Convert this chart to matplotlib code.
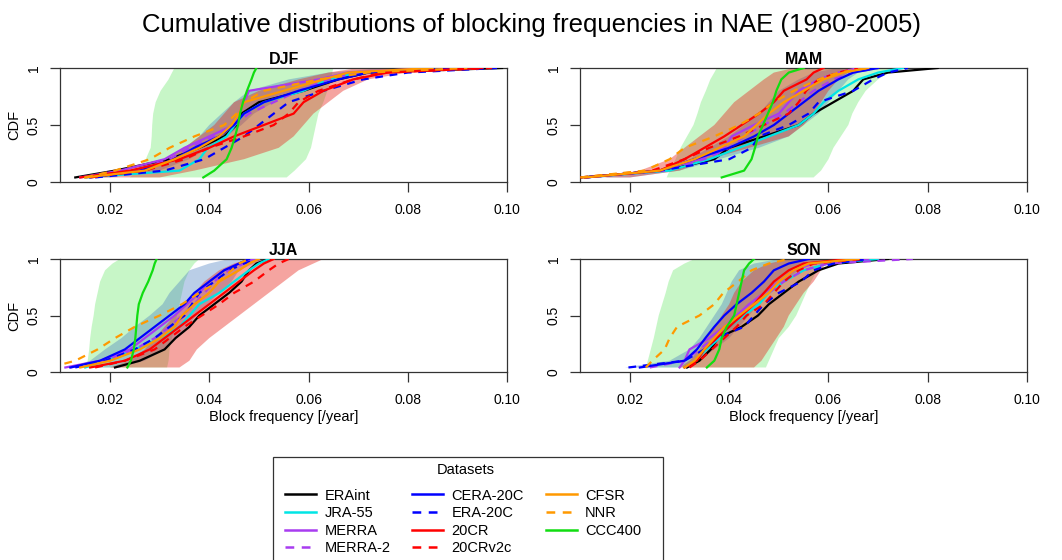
import matplotlib
matplotlib.use("Agg")
import matplotlib.pyplot as plt
from matplotlib.lines import Line2D
from matplotlib.patches import Rectangle

plt.rcParams['font.family'] = ['Liberation Sans', 'DejaVu Sans']

TITLE = "Cumulative distributions of blocking frequencies in NAE (1980-2005)"
SEASONS = ["DJF", "MAM", "JJA", "SON"]
DATASETS = ["ERAint", "JRA-55", "MERRA", "MERRA-2", "CERA-20C", "ERA-20C",
            "20CR", "20CRv2c", "CFSR", "NNR", "CCC400"]
CDF_LEVELS = [0.04, 0.1, 0.2, 0.3, 0.4, 0.5, 0.6, 0.7, 0.8, 0.9, 0.96, 1.0]
X_TICKS = [0.02, 0.04, 0.06, 0.08, 0.10]
X_TICK_LABELS = ["0.02", "0.04", "0.06", "0.08", "0.10"]
Y_TICKS = [0, 0.5, 1]
Y_TICK_LABELS = ["0", "0.5", "1"]

# ---- DJF: block frequency at each CDF level ----
DJF_ERAINT = [0.013, 0.021, 0.032, 0.038, 0.043, 0.0455, 0.0465, 0.050, 0.059, 0.066, 0.072, 0.099]
DJF_JRA55 = [0.015, 0.034, 0.038, 0.0397, 0.0435, 0.0452, 0.047, 0.051, 0.059, 0.064, 0.070, 0.095]
DJF_MERRA = [0.014, 0.022, 0.031, 0.035, 0.040, 0.045, 0.046, 0.047, 0.048, 0.062, 0.068, 0.085]
DJF_MERRA2 = [0.015, 0.025, 0.032, 0.036, 0.041, 0.045, 0.048, 0.053, 0.058, 0.064, 0.070, 0.088]
DJF_CERA20C = [0.016, 0.026, 0.033, 0.037, 0.042, 0.045, 0.047, 0.051, 0.058, 0.066, 0.072, 0.092]
DJF_ERA20C = [0.017, 0.031, 0.039, 0.043, 0.047, 0.050, 0.053, 0.056, 0.063, 0.071, 0.080, 0.098]
DJF_20CR = [0.014, 0.024, 0.034, 0.040, 0.045, 0.051, 0.057, 0.059, 0.063, 0.069, 0.076, 0.095]
DJF_20CRV2C = [0.016, 0.027, 0.035, 0.040, 0.047, 0.053, 0.056, 0.058, 0.062, 0.069, 0.075, 0.097]
DJF_CFSR = [0.015, 0.027, 0.033, 0.038, 0.042, 0.0445, 0.046, 0.047, 0.055, 0.063, 0.068, 0.085]
DJF_NNR = [0.015, 0.021, 0.028, 0.032, 0.037, 0.043, 0.0455, 0.047, 0.051, 0.062, 0.072, 0.092]
DJF_CCC400 = [0.0388, 0.041, 0.0435, 0.0445, 0.0452, 0.0458, 0.0462, 0.0468, 0.0476, 0.0485, 0.049, 0.0495]
DJF_CCC400_LO = [0.024, 0.0255, 0.0272, 0.0282, 0.0284, 0.0285, 0.0287, 0.0292, 0.0302, 0.0318, 0.0325, 0.033]
DJF_CCC400_HI = [0.0556, 0.0572, 0.0595, 0.0605, 0.061, 0.0615, 0.062, 0.063, 0.0638, 0.0645, 0.0648, 0.065]
DJF_CERA_LO = [0.016, 0.025, 0.032, 0.035, 0.038, 0.040, 0.0425, 0.045, 0.048, 0.056, 0.064, 0.075]
DJF_CERA_HI = [0.020, 0.030, 0.036, 0.040, 0.0435, 0.0465, 0.049, 0.053, 0.058, 0.066, 0.074, 0.088]
DJF_20CR_LO = [0.014, 0.022, 0.031, 0.035, 0.038, 0.041, 0.043, 0.045, 0.050, 0.058, 0.064, 0.070]
DJF_20CR_HI = [0.030, 0.037, 0.047, 0.054, 0.057, 0.059, 0.061, 0.064, 0.067, 0.072, 0.080, 0.085]

# ---- MAM ----
MAM_ERAINT = [0.010, 0.027, 0.037, 0.040, 0.047, 0.054, 0.057, 0.061, 0.065, 0.067, 0.072, 0.082]
MAM_JRA55 = [0.011, 0.028, 0.036, 0.042, 0.048, 0.054, 0.057, 0.059, 0.062, 0.066, 0.070, 0.075]
MAM_MERRA = [0.011, 0.026, 0.034, 0.039, 0.0405, 0.045, 0.050, 0.052, 0.054, 0.058, 0.062, 0.066]
MAM_MERRA2 = [0.011, 0.027, 0.035, 0.040, 0.043, 0.047, 0.051, 0.054, 0.057, 0.061, 0.065, 0.070]
MAM_CERA20C = [0.011, 0.026, 0.033, 0.040, 0.045, 0.049, 0.052, 0.055, 0.058, 0.062, 0.065, 0.070]
MAM_ERA20C = [0.011, 0.026, 0.040, 0.0445, 0.046, 0.052, 0.056, 0.058, 0.065, 0.069, 0.072, 0.076]
MAM_20CR = [0.011, 0.026, 0.031, 0.035, 0.039, 0.0425, 0.046, 0.049, 0.051, 0.0556, 0.057, 0.059]
MAM_20CRV2C = [0.010, 0.0245, 0.031, 0.036, 0.042, 0.047, 0.052, 0.054, 0.0555, 0.058, 0.062, 0.066]
MAM_CFSR = [0.011, 0.026, 0.033, 0.038, 0.043, 0.0455, 0.048, 0.051, 0.055, 0.059, 0.063, 0.068]
MAM_NNR = [0.010, 0.023, 0.028, 0.031, 0.037, 0.042, 0.046, 0.049, 0.053, 0.058, 0.062, 0.068]
MAM_CCC400 = [0.0385, 0.043, 0.0445, 0.0452, 0.0458, 0.0468, 0.0478, 0.0488, 0.0495, 0.0505, 0.052, 0.055]
MAM_CCC400_LO = [0.0274, 0.028, 0.0292, 0.0302, 0.0315, 0.0328, 0.0336, 0.0343, 0.0353, 0.0362, 0.037, 0.0375]
MAM_CCC400_HI = [0.057, 0.0585, 0.060, 0.061, 0.0625, 0.064, 0.0648, 0.066, 0.0675, 0.070, 0.072, 0.074]
MAM_CERA_LO = [0.012, 0.025, 0.032, 0.036, 0.040, 0.043, 0.046, 0.048, 0.050, 0.054, 0.057, 0.062]
MAM_CERA_HI = [0.020, 0.030, 0.038, 0.046, 0.052, 0.055, 0.058, 0.060, 0.062, 0.064, 0.066, 0.070]
MAM_20CR_LO = [0.015, 0.022, 0.028, 0.031, 0.034, 0.037, 0.039, 0.041, 0.044, 0.047, 0.049, 0.053]
MAM_20CR_HI = [0.020, 0.030, 0.036, 0.044, 0.052, 0.055, 0.057, 0.0585, 0.060, 0.062, 0.064, 0.066]

# ---- JJA ----
JJA_ERAINT = [0.021, 0.026, 0.031, 0.0332, 0.036, 0.038, 0.041, 0.044, 0.0465, 0.048, 0.0495, 0.052]
JJA_JRA55 = [0.015, 0.019, 0.025, 0.030, 0.034, 0.036, 0.038, 0.042, 0.045, 0.048, 0.050, 0.052]
JJA_MERRA = [0.011, 0.018, 0.024, 0.027, 0.030, 0.033, 0.0355, 0.038, 0.040, 0.043, 0.046, 0.049]
JJA_MERRA2 = [0.012, 0.019, 0.025, 0.029, 0.032, 0.0345, 0.037, 0.039, 0.041, 0.044, 0.047, 0.050]
JJA_CERA20C = [0.012, 0.018, 0.023, 0.026, 0.029, 0.032, 0.035, 0.037, 0.040, 0.043, 0.046, 0.048]
JJA_ERA20C = [0.013, 0.019, 0.025, 0.029, 0.032, 0.035, 0.0365, 0.038, 0.041, 0.044, 0.047, 0.050]
JJA_20CR = [0.016, 0.023, 0.028, 0.031, 0.034, 0.037, 0.040, 0.043, 0.046, 0.049, 0.051, 0.053]
JJA_20CRV2C = [0.017, 0.023, 0.029, 0.032, 0.035, 0.0385, 0.042, 0.045, 0.049, 0.052, 0.054, 0.056]
JJA_CFSR = [0.014, 0.020, 0.026, 0.030, 0.033, 0.0345, 0.037, 0.040, 0.042, 0.046, 0.048, 0.050]
JJA_NNR = [0.008, 0.013, 0.0175, 0.021, 0.025, 0.030, 0.0345, 0.038, 0.0418, 0.0445, 0.046, 0.048]
JJA_CCC400 = [0.0235, 0.0242, 0.0248, 0.0251, 0.0253, 0.0255, 0.0258, 0.0266, 0.0277, 0.0286, 0.029, 0.0294]
JJA_CCC400_LO = [0.0152, 0.0155, 0.0158, 0.016, 0.0163, 0.0167, 0.017, 0.0175, 0.018, 0.019, 0.0205, 0.022]
JJA_CCC400_HI = [0.0315, 0.0318, 0.032, 0.0325, 0.033, 0.0335, 0.034, 0.0345, 0.035, 0.036, 0.037, 0.038]
JJA_CERA_LO = [0.012, 0.016, 0.019, 0.0223, 0.025, 0.028, 0.0306, 0.032, 0.034, 0.036, 0.040, 0.044]
JJA_CERA_HI = [0.022, 0.027, 0.031, 0.0332, 0.0355, 0.0375, 0.0397, 0.042, 0.0445, 0.046, 0.049, 0.051]
JJA_20CR_LO = [0.020, 0.024, 0.027, 0.029, 0.031, 0.033, 0.035, 0.037, 0.039, 0.042, 0.045, 0.048]
JJA_20CR_HI = [0.034, 0.036, 0.0375, 0.040, 0.043, 0.046, 0.049, 0.052, 0.055, 0.058, 0.061, 0.063]

# ---- SON ----
SON_ERAINT = [0.0315, 0.034, 0.0363, 0.0377, 0.0425, 0.0458, 0.048, 0.051, 0.054, 0.058, 0.062, 0.072]
SON_JRA55 = [0.031, 0.033, 0.0355, 0.038, 0.040, 0.043, 0.046, 0.048, 0.051, 0.055, 0.060, 0.070]
SON_MERRA = [0.030, 0.031, 0.032, 0.036, 0.039, 0.0415, 0.044, 0.047, 0.050, 0.053, 0.057, 0.068]
SON_MERRA2 = [0.024, 0.031, 0.034, 0.037, 0.040, 0.0425, 0.045, 0.048, 0.051, 0.055, 0.060, 0.077]
SON_CERA20C = [0.022, 0.031, 0.0335, 0.0352, 0.037, 0.039, 0.0415, 0.0445, 0.047, 0.049, 0.052, 0.056]
SON_ERA20C = [0.0197, 0.031, 0.035, 0.0375, 0.043, 0.045, 0.047, 0.050, 0.0545, 0.057, 0.061, 0.068]
SON_20CR = [0.031, 0.0335, 0.035, 0.0375, 0.040, 0.0425, 0.045, 0.047, 0.049, 0.052, 0.055, 0.064]
SON_20CRV2C = [0.032, 0.034, 0.0365, 0.039, 0.0415, 0.0435, 0.047, 0.049, 0.051, 0.054, 0.057, 0.067]
SON_CFSR = [0.031, 0.033, 0.035, 0.037, 0.039, 0.042, 0.045, 0.048, 0.050, 0.053, 0.056, 0.066]
SON_NNR = [0.0232, 0.0245, 0.027, 0.028, 0.0295, 0.034, 0.037, 0.0388, 0.0418, 0.0445, 0.048, 0.052]
SON_CCC400 = [0.0355, 0.037, 0.038, 0.0385, 0.0395, 0.041, 0.0415, 0.042, 0.0425, 0.043, 0.044, 0.045]
SON_CCC400_LO = [0.0232, 0.0236, 0.0242, 0.0248, 0.0253, 0.0258, 0.0265, 0.0272, 0.0278, 0.0287, 0.031, 0.033]
SON_CCC400_HI = [0.0474, 0.048, 0.049, 0.050, 0.052, 0.0535, 0.0545, 0.0555, 0.0565, 0.0577, 0.059, 0.060]
SON_CERA_LO = [0.019, 0.028, 0.032, 0.034, 0.0355, 0.037, 0.0385, 0.0395, 0.0405, 0.042, 0.045, 0.050]
SON_CERA_HI = [0.030, 0.034, 0.037, 0.040, 0.042, 0.044, 0.046, 0.048, 0.051, 0.054, 0.057, 0.062]
SON_20CR_LO = [0.030, 0.032, 0.034, 0.0355, 0.037, 0.0385, 0.040, 0.041, 0.0425, 0.045, 0.048, 0.052]
SON_20CR_HI = [0.045, 0.0465, 0.048, 0.0495, 0.051, 0.052, 0.0535, 0.055, 0.057, 0.0585, 0.0595, 0.061]

CURVES = {
    "DJF": [DJF_ERAINT, DJF_JRA55, DJF_MERRA, DJF_MERRA2, DJF_CERA20C, DJF_ERA20C,
            DJF_20CR, DJF_20CRV2C, DJF_CFSR, DJF_NNR, DJF_CCC400],
    "MAM": [MAM_ERAINT, MAM_JRA55, MAM_MERRA, MAM_MERRA2, MAM_CERA20C, MAM_ERA20C,
            MAM_20CR, MAM_20CRV2C, MAM_CFSR, MAM_NNR, MAM_CCC400],
    "JJA": [JJA_ERAINT, JJA_JRA55, JJA_MERRA, JJA_MERRA2, JJA_CERA20C, JJA_ERA20C,
            JJA_20CR, JJA_20CRV2C, JJA_CFSR, JJA_NNR, JJA_CCC400],
    "SON": [SON_ERAINT, SON_JRA55, SON_MERRA, SON_MERRA2, SON_CERA20C, SON_ERA20C,
            SON_20CR, SON_20CRV2C, SON_CFSR, SON_NNR, SON_CCC400],
}
BANDS = {
    "DJF": [(DJF_CCC400_LO, DJF_CCC400_HI), (DJF_CERA_LO, DJF_CERA_HI), (DJF_20CR_LO, DJF_20CR_HI)],
    "MAM": [(MAM_CCC400_LO, MAM_CCC400_HI), (MAM_CERA_LO, MAM_CERA_HI), (MAM_20CR_LO, MAM_20CR_HI)],
    "JJA": [(JJA_CCC400_LO, JJA_CCC400_HI), (JJA_CERA_LO, JJA_CERA_HI), (JJA_20CR_LO, JJA_20CR_HI)],
    "SON": [(SON_CCC400_LO, SON_CCC400_HI), (SON_CERA_LO, SON_CERA_HI), (SON_20CR_LO, SON_20CR_HI)],
}

# ---- styles ----
COLORS = ["#000000", "#00E5E5", "#A83CF0", "#A83CF0", "#0000FF", "#0000FF",
          "#FF0000", "#FF0000", "#FF9900", "#FF9900", "#11DD11"]
STYLES = ["-", "-", "-", "--", "-", "--", "-", "--", "-", "--", "-"]
BAND_COLORS = [("#90EE90", 0.5), ("#4A7FC0", 0.38), ("#E8281E", 0.42)]
DASH = (0, (3.5, 3.0))

fig = plt.figure(figsize=(10.62, 5.60), dpi=100)
W, H = 1062.0, 560.0
panel_px = {"DJF": (60.4, 68, 507, 182), "MAM": (580.3, 68, 1027, 182),
            "JJA": (60.4, 259, 507, 372), "SON": (580.3, 259, 1027, 372)}

for season in SEASONS:
    l, t, r, b = panel_px[season]
    ax = fig.add_axes([l / W, 1 - b / H, (r - l) / W, (b - t) / H])
    for (lo, hi), (fc, al) in zip(BANDS[season], BAND_COLORS):
        ax.fill_betweenx(CDF_LEVELS, lo, hi, facecolor=fc, alpha=al, lw=0, zorder=1)
    for xs, c, s in zip(CURVES[season], COLORS, STYLES):
        ls = DASH if s == "--" else "-"
        ax.plot(xs, CDF_LEVELS, color=c, linestyle=ls, lw=1.6, zorder=3)
    ax.set_xlim(0.01, 0.10)
    ax.set_ylim(0, 1)
    ax.set_xticks(X_TICKS)
    ax.set_xticklabels(X_TICK_LABELS, fontsize=10)
    ax.set_yticks(Y_TICKS)
    ax.set_yticklabels(Y_TICK_LABELS, fontsize=10, rotation=90, va="center")
    ax.tick_params(axis="x", length=7, width=0.9, pad=8, color="#333333")
    ax.tick_params(axis="y", length=7, width=0.9, pad=7, color="#333333")
    for sp in ax.spines.values():
        sp.set_linewidth(0.9)
        sp.set_color("#333333")
    ax.set_title(season, fontsize=11.5, fontweight="bold", pad=3)
    if season in ("DJF", "JJA"):
        ax.set_ylabel("CDF", fontsize=10.5, labelpad=4)
    if season in ("JJA", "SON"):
        ax.set_xlabel("Block frequency [/year]", fontsize=10.5, labelpad=2)

fig.text(0.5, 1 - 25 / H, TITLE, ha="center", va="center", fontsize=18.5)

# legend: frame and title drawn separately, entries via fig.legend
frame = Rectangle((273 / W, -0.05), (663 - 273) / W, (1 - 457 / H) + 0.05,
                  transform=fig.transFigure, fill=False, edgecolor="#333333", lw=0.9)
fig.add_artist(frame)
fig.text(466 / W, 1 - 470 / H, "Datasets", ha="center", va="center", fontsize=10.5)

handles = [Line2D([], [], color=c, lw=1.8, linestyle=(DASH if s == "--" else "-"))
           for c, s in zip(COLORS, STYLES)]
leg = fig.legend(handles, DATASETS, ncol=3, loc="upper left",
                 bbox_to_anchor=(285 / W, 1 - 488.5 / H), fontsize=10.5,
                 frameon=False, borderaxespad=0, borderpad=0,
                 handlelength=2.1, handletextpad=0.6, columnspacing=1.5,
                 labelspacing=0.25)

fig.savefig("out.png", dpi=100)
